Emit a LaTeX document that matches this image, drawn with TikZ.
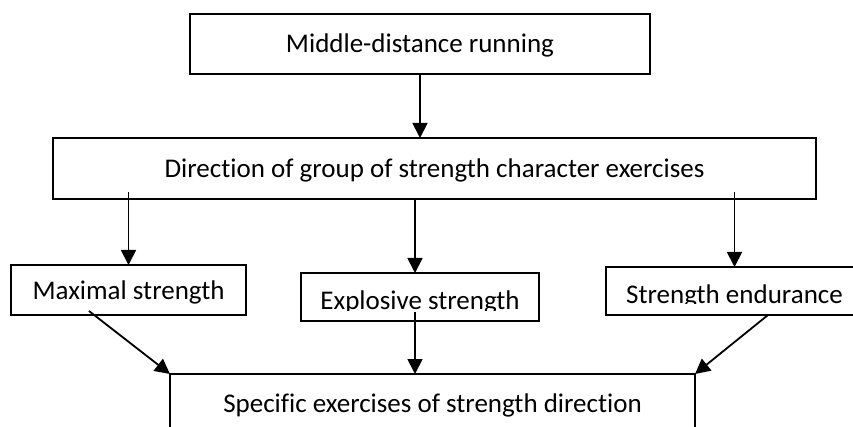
\documentclass[tikz,border=0pt]{standalone}
\usepackage{fontspec}
\setmainfont{Carlito}[Ligatures=NoCommon]
\usetikzlibrary{arrows.meta,calc}
\begin{document}
\begin{tikzpicture}[x=1pt,y=-1pt,
    box/.style={draw,line width=1.4pt,inner sep=0pt,outer sep=0pt,text height=18pt,text depth=0pt},
    arr/.style={line width=1.8pt,-{Triangle[length=15pt,width=15pt]}},
    every node/.style={font=\fontsize{27}{32}\selectfont}
]
\useasboundingbox (0,0) rectangle (853,427);

% Top levels
\node[box,minimum width=460pt,minimum height=60pt] (run) at (420,44) {Middle-distance running};
\node[box,minimum width=763pt,minimum height=61pt] (dir) at (434.5,168.5) {Direction of group of strength character exercises};

% Kinds of strength
\node[box,minimum width=235pt,minimum height=50pt] (max) at (128.5,290) {Maximal strength};
\node[box,minimum width=238pt,minimum height=48pt] (expl) at (420,297) {};
\node[box,minimum width=257pt,minimum height=48pt] (endu) at (734.5,291) {};
\begin{scope}
\clip (expl.north west) rectangle ($(expl.south east)+(0,-11)$);
\node[anchor=base] (expltxt) at (420,309) {Explosive strength};
\end{scope}
\begin{scope}
\clip (endu.north west) rectangle ($(endu.south east)+(0,-12)$);
\node[anchor=base] (endutxt) at (734.5,303) {Strength endurance};
\end{scope}

% Bottom
\node[box,minimum width=525pt,minimum height=58pt] (spec) at (432.5,403) {Specific exercises of strength direction};

% Arrows down
\draw[arr] (run.south) -- (run.south |- dir.north);
\draw[arr] ($(dir.south -| max.north)+(0,-7)$) -- (max.north);
\draw[arr] ($(dir.south -| expl.north)+(-5,0)$) -- ($(expl.north)+(-5,0)$);
\draw[arr] ($(dir.south -| endu.north)+(0,-7)$) -- (endu.north);

% Arrows to the bottom box
\draw[arr] ($(max.south)+(-39.5,-4)$) -- (spec.north west);
\draw[arr] ($(expl.south)+(-5,-9)$) -- ($(spec.north)+(-17.5,0)$);
\draw[arr] ($(endu.south)+(33.5,0)$) -- (spec.north east);

\end{tikzpicture}
\end{document}
